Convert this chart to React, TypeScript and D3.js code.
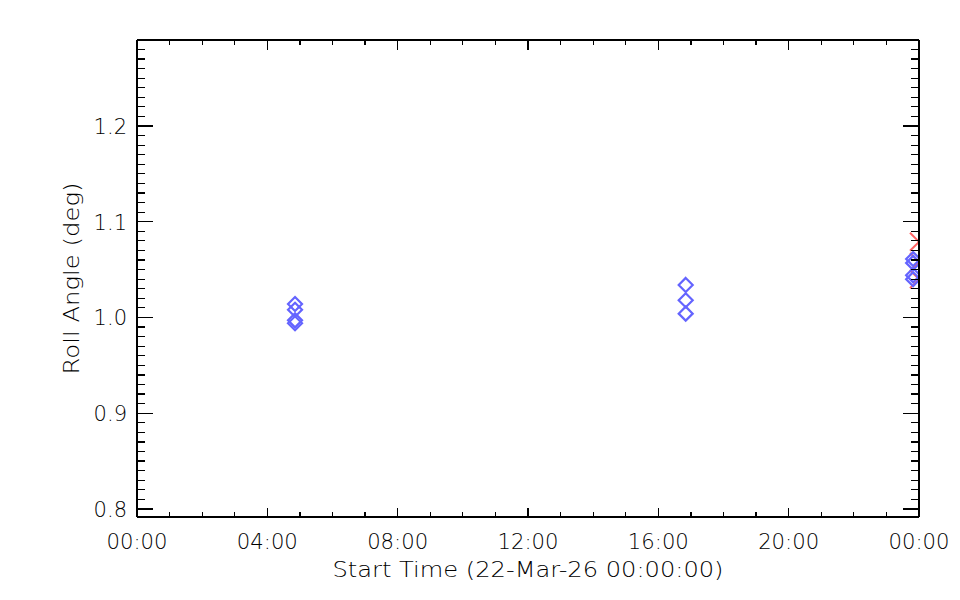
import React from "react";
import * as d3 from "d3";

// Hours since 22-Mar-26 00:00:00
const blueTimes = [4.85, 4.85, 4.85, 4.85, 16.84, 16.84, 16.84, 23.82, 23.82, 23.82, 23.82];
const blueValues = [1.014, 1.008, 0.997, 0.994, 1.034, 1.018, 1.004, 1.061, 1.057, 1.044, 1.040];
const redTimes = [24.0, 24.0, 24.0];
const redValues = [1.079, 1.058, 1.040];

const xMajorTicks = [0, 4, 8, 12, 16, 20, 24];
const xTickLabels = ["00:00", "04:00", "08:00", "12:00", "16:00", "20:00", "00:00"];
const yMajorTicks = [0.8, 0.9, 1.0, 1.1, 1.2];
const yTickLabels = ["0.8", "0.9", "1.0", "1.1", "1.2"];

const xTitle = "Start Time (22-Mar-26 00:00:00)";
const yTitle = "Roll Angle (deg)";

const W = 960, H = 600;
const L = 137, R = 919, T = 40, B = 517;
const FONT = "'DejaVu Sans', sans-serif";

export default function App() {
  const x = d3.scaleLinear().domain([0, 24]).range([L, R]);
  const y = d3.scaleLinear().domain([0.7916, 1.2898]).range([B, T]);

  const xMinor = d3.range(0, 25).filter((h) => h % 4 !== 0);
  const yMinor = d3.range(80, 130).map((v) => v / 100).filter((v) => Math.round(v * 100) % 10 !== 0 && v >= 0.7916 && v <= 1.2898);

  const xMajLen = 9.5, xMinLen = 4.8, yMajLen = 15.6, yMinLen = 7.8;
  const ds = 7;
  const xs = 9;

  return (
    <div style={{ position: "absolute", left: 0, top: 0 }}>
      <svg width={W} height={H} style={{ display: "block", background: "#fff" }}>
        <defs>
          <clipPath id="plotclip">
            <rect x={L} y={T} width={R - L} height={B - T} />
          </clipPath>
        </defs>
        <rect x={0} y={0} width={W} height={H} fill="#fff" />
        {/* data */}
        <g clipPath="url(#plotclip)">
          {redTimes.map((t, i) => {
            const cx = x(t), cy = y(redValues[i]);
            return (
              <path key={"r" + i}
                d={`M${cx - xs},${cy - xs}L${cx + xs},${cy + xs}M${cx - xs},${cy + xs}L${cx + xs},${cy - xs}`}
                stroke="#ff6464" strokeWidth={2} fill="none" />
            );
          })}
          {blueTimes.map((t, i) => {
            const cx = x(t), cy = y(blueValues[i]);
            return (
              <path key={"b" + i}
                d={`M${cx},${cy - ds}L${cx + ds},${cy}L${cx},${cy + ds}L${cx - ds},${cy}Z`}
                stroke="#6464ff" strokeWidth={2.2} fill="none" />
            );
          })}
        </g>
        {/* axes box */}
        <g stroke="#000" strokeWidth={1.2} shapeRendering="crispEdges">
          <line x1={L} y1={B} x2={R} y2={B} />
          <line x1={L} y1={T} x2={R} y2={T} />
          <line x1={L} y1={T} x2={L} y2={B} />
          <line x1={R} y1={T} x2={R} y2={B} />
          {xMajorTicks.map((t) => (
            <g key={"xm" + t}>
              <line x1={x(t)} x2={x(t)} y1={B} y2={B - xMajLen} />
              <line x1={x(t)} x2={x(t)} y1={T} y2={T + xMajLen} />
            </g>
          ))}
          {xMinor.map((t) => (
            <g key={"xn" + t}>
              <line x1={x(t)} x2={x(t)} y1={B} y2={B - xMinLen} />
              <line x1={x(t)} x2={x(t)} y1={T} y2={T + xMinLen} />
            </g>
          ))}
          {yMajorTicks.map((v) => (
            <g key={"ym" + v}>
              <line x1={L} x2={L + yMajLen} y1={y(v)} y2={y(v)} />
              <line x1={R} x2={R - yMajLen} y1={y(v)} y2={y(v)} />
            </g>
          ))}
          {yMinor.map((v) => (
            <g key={"yn" + v}>
              <line x1={L} x2={L + yMinLen} y1={y(v)} y2={y(v)} />
              <line x1={R} x2={R - yMinLen} y1={y(v)} y2={y(v)} />
            </g>
          ))}
        </g>
        {/* tick labels */}
        <g fontFamily={FONT} fontWeight={200} fontSize={21} fill="#000">
          {xMajorTicks.map((t, i) => (
            <text key={"xl" + i} x={x(t)} y={549} textAnchor="middle" textLength={61} lengthAdjust="spacingAndGlyphs">
              {xTickLabels[i]}
            </text>
          ))}
          {yMajorTicks.map((v, i) => (
            <text key={"yl" + i} x={127} y={y(v) + 8} textAnchor="end">
              {yTickLabels[i]}
            </text>
          ))}
          <text x={(L + R) / 2} y={577} textAnchor="middle" textLength={391} lengthAdjust="spacingAndGlyphs">
            {xTitle}
          </text>
          <text transform={`translate(79, ${(T + B) / 2}) rotate(-90)`} textAnchor="middle" textLength={192} lengthAdjust="spacingAndGlyphs">
            {yTitle}
          </text>
        </g>
      </svg>
    </div>
  );
}
